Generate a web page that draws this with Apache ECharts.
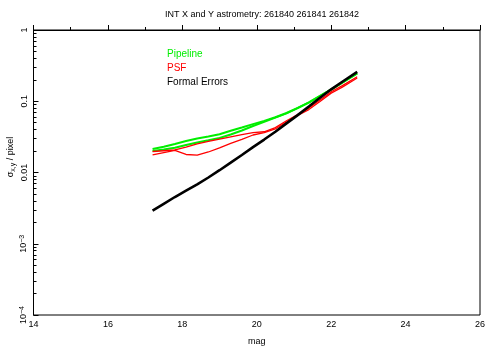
<!DOCTYPE html>
<html>
<head>
<meta charset="utf-8">
<script src="https://cdn.jsdelivr.net/npm/echarts@6/dist/echarts.min.js"></script>
<style>
  html, body { margin: 0; padding: 0; background: #fff; }
  #chart { width: 490px; height: 352px; }
</style>
</head>
<body>
<div id="chart"></div>
<script>
const mags = [17.2, 17.5, 17.8, 18.1, 18.4, 18.7, 19.0, 19.3, 19.6, 19.9,
              20.2, 20.5, 20.8, 21.1, 21.4, 21.7, 22.0, 22.3, 22.7]

// sigma (pixel) per series
const pipelineX = [0.0214, 0.0230, 0.0251, 0.0276, 0.0300, 0.0320, 0.0345, 0.0385, 0.0428, 0.0478,
                   0.0531, 0.0596, 0.0684, 0.0807, 0.0967, 0.119, 0.147, 0.183, 0.246]
const pipelineY = [0.0200, 0.0210, 0.0222, 0.0243, 0.0264, 0.0283, 0.0305, 0.0341, 0.0388, 0.0450,
                   0.0515, 0.0590, 0.0675, 0.0800, 0.0957, 0.118, 0.146, 0.182, 0.245]
const psfX = [0.0197, 0.0202, 0.0207, 0.0227, 0.0253, 0.0274, 0.0295, 0.0317, 0.0340, 0.0362,
              0.0373, 0.0426, 0.0532, 0.0650, 0.0802, 0.104, 0.136, 0.166, 0.221]
const psfY = [0.0177, 0.0190, 0.0204, 0.0179, 0.0175, 0.0194, 0.0222, 0.0257, 0.0292, 0.0336,
              0.0363, 0.0408, 0.0511, 0.0630, 0.0764, 0.0991, 0.130, 0.158, 0.212]
const formalErrors = [0.00292, 0.00364, 0.00453, 0.00557, 0.00683, 0.00851, 0.01077, 0.01374, 0.0176, 0.0227,
                      0.0290, 0.0373, 0.0489, 0.0639, 0.0843, 0.1117, 0.147, 0.188, 0.259]

const xTicks = [14, 16, 18, 20, 22, 24, 26]
// minor ticks in log10 units (2..9 of each decade)
const yMinorLog = []
for (let d = -4; d < 0; d++) {
    for (let k = 2; k <= 9; k++) yMinorLog.push(d + Math.log10(k))
}

const titleText = 'INT X and Y astrometry: 261840 261841 261842'
const legendItems = [
    { text: 'Pipeline', color: '#00ee00' },
    { text: 'PSF', color: '#ff0000' },
    { text: 'Formal Errors', color: '#000000' }
]

function pairs(ys) {
    return mags.map((m, i) => [m, ys[i]])
}

function yLabel(v) {
    let p = Math.round(Math.log10(v))
    if (p === 0) return '1'
    if (p === -1) return '0.1'
    if (p === -2) return '0.01'
    return '10{sup|\u2212' + (-p) + '}'
}

const font = 'Liberation Sans, Arial, sans-serif'
let chart = echarts.init(document.getElementById('chart'))

let lineSeries = (name, ys, color, width) => ({
    name: name,
    type: 'line',
    data: pairs(ys),
    showSymbol: false,
    lineStyle: { color: color, width: width },
    itemStyle: { color: color },
    z: 3
})

chart.setOption({
    animation: false,
    backgroundColor: '#ffffff',
    title: {
        text: titleText,
        left: 257,
        textAlign: 'center',
        top: 5,
        textStyle: { fontFamily: font, fontSize: 9, fontWeight: 'normal', color: '#000' }
    },
    grid: {
        left: 33.5, right: 10, top: 30, bottom: 37,
        show: true, borderColor: '#000', borderWidth: 1,
        outerBoundsMode: 'none'
    },
    xAxis: {
        type: 'value',
        min: 14, max: 26, interval: 2,
        name: 'mag',
        nameLocation: 'middle',
        nameGap: 22,
        nameTextStyle: { fontFamily: font, fontSize: 9, color: '#000' },
        axisLine: { lineStyle: { color: '#000' } },
        axisTick: { inside: true, length: 5, lineStyle: { color: '#000' } },
        minorTick: { show: true, splitNumber: 2, length: 3, lineStyle: { color: '#000' } },
        axisLabel: { fontFamily: font, fontSize: 9, color: '#000', margin: 5,
                     customValues: xTicks },
        splitLine: { show: false }
    },
    yAxis: [{
        type: 'log',
        logBase: 10,
        min: 0.0001, max: 1,
        axisLine: { lineStyle: { color: '#000' } },
        axisTick: { inside: true, length: 5, lineStyle: { color: '#000' } },
        axisLabel: {
            fontFamily: font, fontSize: 9, color: '#000', rotate: 90, margin: 4,
            formatter: yLabel,
            rich: {
                sup: { fontFamily: font, fontSize: 7, color: '#000', verticalAlign: 'top', padding: [0, 0, 4, 0] }
            }
        },
        splitLine: { show: false }
    }, {
        type: 'value',
        min: -4, max: 0,
        position: 'left',
        axisLine: { show: false },
        axisTick: { inside: true, length: 3, lineStyle: { color: '#000' }, customValues: yMinorLog },
        axisLabel: { show: false },
        splitLine: { show: false }
    }],
    graphic: [
        {
            type: 'text',
            x: 11, y: 157,
            rotation: Math.PI / 2,
            style: {
                text: '\u03c3{sub|x,y} / pixel',
                fill: '#000',
                font: '9px ' + font,
                align: 'center',
                verticalAlign: 'middle',
                rich: { sub: { fontFamily: font, fontSize: 7, fill: '#000', verticalAlign: 'bottom', padding: [4, 0, 0, 0] } }
            }
        }
    ].concat(legendItems.map((it, i) => ({
        type: 'text',
        x: 167, y: 54 + i * 14,
        style: {
            text: it.text,
            fill: it.color,
            font: '10px ' + font,
            align: 'left',
            verticalAlign: 'middle'
        }
    }))),
    series: [
        lineSeries('Pipeline x', pipelineX, '#00ee00', 2),
        lineSeries('Pipeline y', pipelineY, '#00ee00', 2),
        lineSeries('PSF x', psfX, '#ff0000', 1.3),
        lineSeries('PSF y', psfY, '#ff0000', 1.3),
        lineSeries('Formal Errors', formalErrors, '#000000', 2.6)
    ]
})
</script>
</body>
</html>
